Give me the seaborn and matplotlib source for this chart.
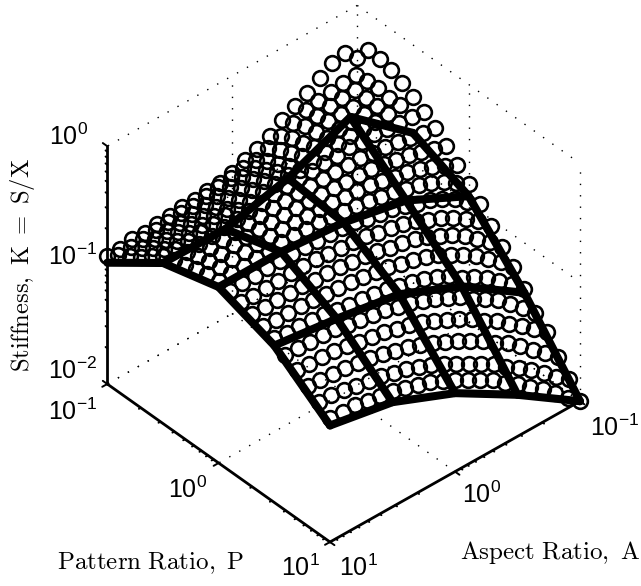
import numpy as np
import matplotlib
matplotlib.use("Agg")
import matplotlib.pyplot as plt
import seaborn as sns
from mpl_toolkits.mplot3d import proj3d

# log10 axes: A runs 10 -> 0.1 across the columns, P runs 0.1 -> 10 down the rows
aspect_log = [1.0, 0.9, 0.8, 0.7, 0.6, 0.5, 0.4, 0.3, 0.2, 0.1, 0.0, -0.1, -0.2, -0.3, -0.4, -0.5, -0.6, -0.7, -0.8, -0.9, -1.0]
pattern_log = [-1.0, -0.9, -0.8, -0.7, -0.6, -0.5, -0.4, -0.3, -0.2, -0.1, 0.0, 0.1, 0.2, 0.3, 0.4, 0.5, 0.6, 0.7, 0.8, 0.9, 1.0]

# circles, in decades above K = 10^-2
circle_rows = [
    [1.08, 1.08, 1.10, 1.09, 1.11, 1.12, 1.13, 1.13, 1.15, 1.16, 1.18, 1.23, 1.27, 1.32, 1.39, 1.45, 1.50, 1.57, 1.63, 1.66, 1.56],
    [1.15, 1.16, 1.17, 1.18, 1.19, 1.21, 1.21, 1.23, 1.25, 1.27, 1.29, 1.30, 1.34, 1.38, 1.43, 1.48, 1.50, 1.52, 1.53, 1.54, 1.69],
    [1.21, 1.22, 1.23, 1.24, 1.25, 1.27, 1.28, 1.30, 1.32, 1.34, 1.36, 1.36, 1.39, 1.43, 1.47, 1.50, 1.52, 1.53, 1.54, 1.56, 1.68],
    [1.27, 1.28, 1.29, 1.30, 1.31, 1.32, 1.33, 1.35, 1.37, 1.39, 1.41, 1.40, 1.43, 1.46, 1.49, 1.52, 1.52, 1.52, 1.54, 1.56, 1.66],
    [1.34, 1.34, 1.35, 1.36, 1.37, 1.38, 1.38, 1.40, 1.42, 1.44, 1.46, 1.45, 1.47, 1.49, 1.51, 1.52, 1.52, 1.53, 1.54, 1.55, 1.61],
    [1.41, 1.41, 1.42, 1.43, 1.44, 1.46, 1.44, 1.45, 1.47, 1.48, 1.50, 1.48, 1.50, 1.51, 1.52, 1.53, 1.53, 1.53, 1.54, 1.55, 1.56],
    [1.44, 1.45, 1.46, 1.47, 1.48, 1.49, 1.50, 1.51, 1.52, 1.53, 1.54, 1.54, 1.55, 1.55, 1.56, 1.55, 1.55, 1.54, 1.53, 1.52, 1.50],
    [1.47, 1.48, 1.49, 1.50, 1.51, 1.52, 1.52, 1.53, 1.53, 1.54, 1.54, 1.54, 1.54, 1.54, 1.54, 1.52, 1.51, 1.49, 1.47, 1.45, 1.43],
    [1.50, 1.51, 1.51, 1.52, 1.53, 1.54, 1.54, 1.54, 1.54, 1.54, 1.54, 1.53, 1.52, 1.52, 1.51, 1.49, 1.47, 1.45, 1.42, 1.38, 1.35],
    [1.52, 1.52, 1.53, 1.53, 1.54, 1.55, 1.55, 1.55, 1.54, 1.54, 1.54, 1.52, 1.51, 1.50, 1.48, 1.45, 1.43, 1.40, 1.36, 1.31, 1.26],
    [1.53, 1.54, 1.54, 1.55, 1.55, 1.56, 1.56, 1.55, 1.55, 1.54, 1.53, 1.51, 1.49, 1.47, 1.45, 1.42, 1.39, 1.35, 1.30, 1.23, 1.16],
    [1.51, 1.52, 1.52, 1.53, 1.53, 1.53, 1.53, 1.52, 1.52, 1.51, 1.50, 1.47, 1.45, 1.43, 1.40, 1.36, 1.33, 1.28, 1.22, 1.14, 1.06],
    [1.49, 1.48, 1.49, 1.49, 1.49, 1.49, 1.49, 1.48, 1.47, 1.46, 1.45, 1.42, 1.40, 1.37, 1.34, 1.29, 1.25, 1.19, 1.12, 1.04, 0.94],
    [1.45, 1.45, 1.45, 1.45, 1.45, 1.44, 1.44, 1.43, 1.42, 1.41, 1.39, 1.36, 1.34, 1.31, 1.27, 1.22, 1.17, 1.10, 1.02, 0.93, 0.83],
    [1.42, 1.41, 1.41, 1.41, 1.40, 1.39, 1.38, 1.37, 1.36, 1.34, 1.32, 1.29, 1.26, 1.23, 1.19, 1.13, 1.07, 1.00, 0.92, 0.83, 0.73],
    [1.38, 1.37, 1.37, 1.36, 1.35, 1.32, 1.31, 1.30, 1.28, 1.26, 1.23, 1.20, 1.17, 1.13, 1.08, 1.00, 0.95, 0.88, 0.80, 0.71, 0.61],
    [1.31, 1.31, 1.30, 1.30, 1.29, 1.26, 1.25, 1.23, 1.21, 1.18, 1.15, 1.11, 1.07, 1.02, 0.97, 0.89, 0.83, 0.76, 0.67, 0.58, 0.48],
    [1.25, 1.24, 1.24, 1.23, 1.21, 1.19, 1.17, 1.15, 1.12, 1.09, 1.06, 1.01, 0.96, 0.91, 0.85, 0.77, 0.71, 0.63, 0.55, 0.47, 0.38],
    [1.18, 1.17, 1.16, 1.15, 1.14, 1.12, 1.09, 1.06, 1.03, 0.99, 0.95, 0.90, 0.85, 0.79, 0.73, 0.65, 0.59, 0.51, 0.42, 0.33, 0.24],
    [1.11, 1.11, 1.09, 1.07, 1.05, 1.03, 1.00, 0.97, 0.93, 0.89, 0.84, 0.78, 0.72, 0.66, 0.60, 0.52, 0.45, 0.37, 0.29, 0.20, 0.12],
    [1.04, 1.03, 1.03, 1.01, 0.99, 0.97, 0.94, 0.91, 0.87, 0.82, 0.77, 0.71, 0.65, 0.59, 0.51, 0.44, 0.36, 0.28, 0.19, 0.09, 0.00],
]

# thick mesh, same units. first row only exists at A = 10
mesh_aspect = [1.0, 0.5, 0.0, -0.5, -1.0]
mesh_pattern = [-1.0, -0.5, 0.0, 0.5, 1.0]
mesh_rows = [
    [1.02, np.nan, np.nan, np.nan, np.nan],
    [1.35, 1.34, 1.47, 1.69, 1.26],
    [1.48, 1.48, 1.43, 1.32, 1.06],
    [1.32, 1.25, 1.16, 0.93, 0.58],
    [0.98, 0.88, 0.66, 0.35, 0.00],
]

decades = [-1, 0, 1]
k_decades = [-2, -1, 0]
sub_ticks = [2, 3, 4, 5, 6, 7, 8, 9]

sns.set_theme(style="white")
plt.rcParams["mathtext.fontset"] = "custom"
plt.rcParams["mathtext.rm"] = "Liberation Sans"
plt.rcParams["mathtext.default"] = "rm"
plt.rcParams["font.family"] = ["Liberation Sans", "DejaVu Sans"]

W, H = 641, 586
fig = plt.figure(figsize=(W / 100, H / 100), dpi=100)
ax = fig.add_axes([0, 0, H / W, 1], projection="3d", proj_type="ortho")
ax.computed_zorder = False
ax.set_axis_off()
ax.view_init(elev=39.2, azim=48.3)
ax.set_box_aspect((335, 335, 307))
ax.set_xlim(-1, 1)
ax.set_ylim(-1, 1)
ax.set_zlim(-2, 0)
ax.set_autoscale_on(False)

# place the axes so the box corners land where they are in the reference
M = ax.get_proj()
fx, fy, _ = proj3d.proj_transform(1, 1, -2, M)
rx, ry, _ = proj3d.proj_transform(-1, 1, -2, M)
front = ax.transData.transform((fx, fy))
right = ax.transData.transform((rx, ry))
scale = 250 / abs(right[0] - front[0])
side = H * scale
left = 330 - front[0] * scale
bottom = (H - 542) - front[1] * scale
ax.set_position([left / W, bottom / H, side / W, side / H])


def dotted(xs, ys, zs):
    ax.plot(xs, ys, zs, color="black", lw=1.0, linestyle=(0, (1, 7.2)), zorder=1, clip_on=False)


# back walls and floor
for d in decades:
    dotted([d, d], [-1, 1], [-2, -2])
    dotted([-1, 1], [d, d], [-2, -2])
for kd in k_decades:
    dotted([-1, 1], [-1, -1], [kd, kd])
    dotted([-1, -1], [-1, 1], [kd, kd])
for d in [-1, 0, 1]:
    dotted([-1, -1], [d, d], [-2, 0])
dotted([0, 0], [-1, -1], [-2, 0])

# axis lines
axis_style = dict(color="black", lw=2.0, zorder=2, clip_on=False)
ax.plot([1, 1], [-1, 1], [-2, -2], **axis_style)
ax.plot([-1, 1], [1, 1], [-2, -2], **axis_style)
ax.plot([1, 1], [-1, -1], [-2, 0], **axis_style)

tick_style = dict(color="black", lw=1.4, zorder=2, clip_on=False)
for d in decades:
    ax.plot([1, 1.04], [d, d], [-2, -2], **tick_style)
    ax.plot([d, d], [1, 1.04], [-2, -2], **tick_style)
for kd in k_decades:
    ax.plot([1, 1], [-1, -1.04], [kd, kd], **tick_style)
for d in decades[:-1]:
    for s in sub_ticks:
        m = d + np.log10(s)
        ax.plot([1, 1.015], [m, m], [-2, -2], **tick_style)
        ax.plot([m, m], [1, 1.015], [-2, -2], **tick_style)
for kd in k_decades[:-1]:
    for s in sub_ticks:
        m = kd + np.log10(s)
        ax.plot([1, 1], [-1, -1.015], [m, m], **tick_style)

# circles
aa, pp = np.meshgrid(aspect_log, pattern_log)
kk = np.array(circle_rows) - 2
ax.plot(aa.ravel(), pp.ravel(), kk.ravel(), linestyle="none", marker="o", mfc="none",
        mec="black", ms=10.6, mew=1.9, zorder=3, clip_on=False)

# thick mesh
mesh_k = np.array(mesh_rows) - 2
line_style = dict(color="black", lw=5.8, zorder=4, clip_on=False,
                  solid_capstyle="round", solid_joinstyle="round")
for row, p in zip(mesh_k, mesh_pattern):
    if not np.isnan(row[1]):
        ax.plot(mesh_aspect, [p] * 5, row, **line_style)
for col, a in zip(mesh_k.T, mesh_aspect):
    ok = ~np.isnan(col)
    ax.plot([a] * ok.sum(), np.array(mesh_pattern)[ok], col[ok], **line_style)


def label(x, y, s, **kw):
    fig.text(x / W, 1 - y / H, s, ha="center", va="center", color="black", **kw)


tick_labels = [
    (69, 137, 0), (73, 257, -1), (73, 371, -2),
    (73, 412, -1), (188, 490, 0), (300, 568, 1),
    (358, 568, 1), (482, 495, 0), (615, 428, -1),
]
for x, y, e in tick_labels:
    label(x, y, "$10^{%d}$" % e, fontsize=18, math_fontfamily="custom")

label(151, 563, r"$\mathrm{Pattern\ Ratio,\ P}$", fontsize=18, math_fontfamily="cm")
label(550, 553, r"$\mathrm{Aspect\ Ratio,\ A}$", fontsize=18, math_fontfamily="cm")
label(23, 265, r"$\mathrm{Stiffness,\ K\ =\ S/X}$", fontsize=17.7, rotation=90, math_fontfamily="cm")

fig.savefig("out.png", dpi=100)
